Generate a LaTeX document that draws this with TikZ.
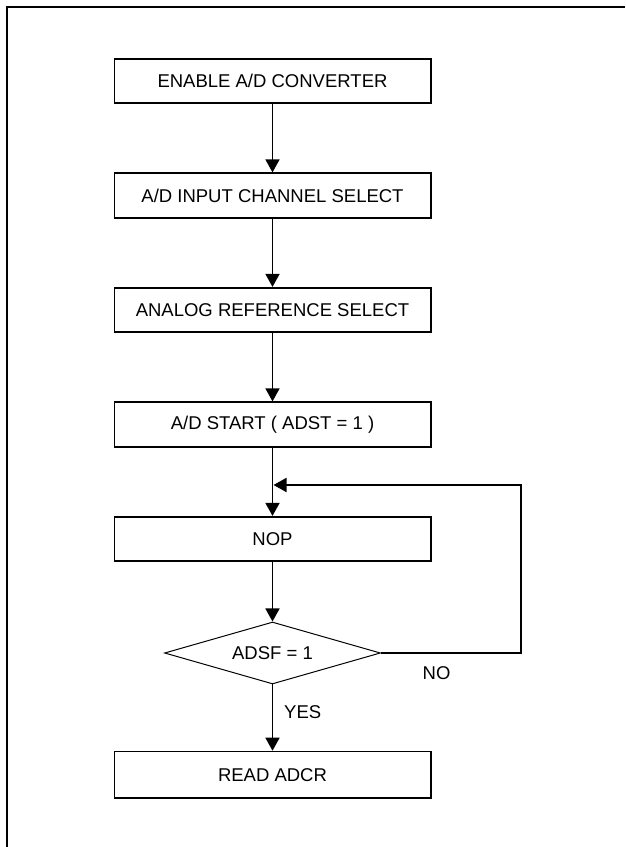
\documentclass[tikz,border=0pt]{standalone}
\usepackage{fontspec}
\setmainfont{Liberation Sans}
\usetikzlibrary{arrows.meta,positioning,shapes.geometric}

\begin{document}
\begin{tikzpicture}[x=1pt,y=1pt,
  stepbox/.style={draw,line width=1.7pt,minimum width=316.3pt,minimum height=44.5pt,
    inner sep=0pt,font=\fontsize{18.5}{22}\selectfont},
  testbox/.style={draw,diamond,line width=1pt,shape aspect=3.44,minimum width=216pt,
    minimum height=62pt,inner sep=0pt,font=\fontsize{18.5}{22}\selectfont},
  flow/.style={line width=1.7pt,-{Triangle[width=14pt,length=13pt]}},
  lbl/.style={inner sep=0pt,font=\fontsize{18.5}{22}\selectfont}]
\useasboundingbox (0,0) rectangle (625,847);
\draw[line width=1.8pt] (6.8,0) |- (625,840.3);

\node[stepbox] (en) at (272.5,766) {ENABLE A/D CONVERTER};
\node[stepbox,below=68.3pt of en] (ch) {A/D INPUT CHANNEL SELECT};
\node[stepbox,below=68.3pt of ch] (ref) {ANALOG REFERENCE SELECT};
\node[stepbox,below=68.3pt of ref] (st) {A/D START ( ADST = 1 )};
\node[stepbox,below=68.3pt of st] (nop) {NOP};
\node[testbox,below=59.4pt of nop] (dec) {ADSF = 1};
\node[stepbox,minimum height=46.3pt,below=66.2pt of dec] (rd) {READ ADCR};

\coordinate (rt) at (521,362);
\coordinate (mrg) at (st.south |- rt);

\draw[flow] (en) -- (ch);
\draw[flow] (ch) -- (ref);
\draw[flow] (ref) -- (st);
\draw[flow] (st) -- (nop);
\draw[flow] (nop) -- (dec);
\draw[flow] (dec.east) -| (rt) -- ([xshift=1pt]mrg);
\draw[flow] (dec) -- (rd);

\node[lbl,below right=13pt and 41.5pt of dec.east] (no) {NO};
\node[lbl,below right=21pt and 11.5pt of dec.south] (yes) {YES};

\end{tikzpicture}
\end{document}
